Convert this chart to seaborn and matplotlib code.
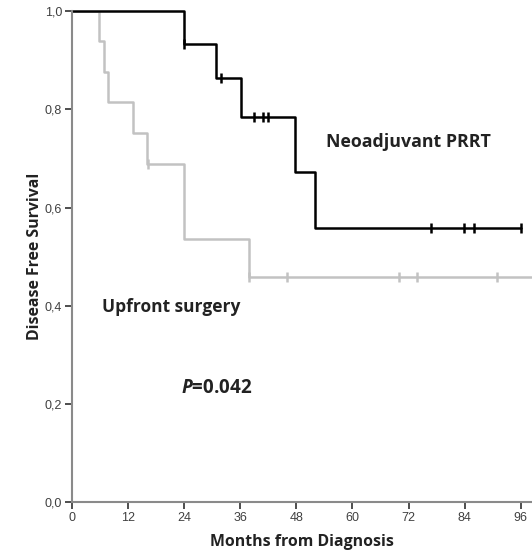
import matplotlib
matplotlib.use("Agg")
import matplotlib.pyplot as plt
import seaborn as sns
import pandas as pd
import numpy as np

# Kaplan-Meier steps
neo_times = [0, 24, 30.8, 36.1, 47.8, 52.0, 96.0]
neo_surv = [1.0, 0.933, 0.863, 0.784, 0.672, 0.559, 0.559]
neo_cens_t = [24.0, 31.9, 38.9, 40.9, 41.9, 76.9, 83.9, 85.9, 96.0]
neo_cens_s = [0.933, 0.863, 0.784, 0.784, 0.784, 0.559, 0.559, 0.559, 0.559]

up_times = [0, 5.9, 6.9, 7.7, 13.2, 16.1, 24.0, 38.0, 100.0]
up_surv = [1.0, 0.940, 0.877, 0.815, 0.751, 0.689, 0.536, 0.458, 0.458]
up_cens_t = [16.4, 38.0, 46.0, 69.9, 73.9, 90.9]
up_cens_s = [0.689, 0.458, 0.458, 0.458, 0.458, 0.458]

xticks = [0, 12, 24, 36, 48, 60, 72, 84, 96]
yticks = [0.0, 0.2, 0.4, 0.6, 0.8, 1.0]
ylabels = ["0,0", "0,2", "0,4", "0,6", "0,8", "1,0"]

sns.set_style("ticks")
plt.rcParams['font.family'] = ['Liberation Sans', 'DejaVu Sans']
plt.rcParams['mathtext.fontset'] = 'custom'
plt.rcParams['mathtext.bfit'] = 'Open Sans:bold:italic'

fig = plt.figure(figsize=(5.32, 5.54), dpi=100)
ax = fig.add_axes([0.1348, 0.093, 0.8652, 0.887])

neo = pd.DataFrame({'t': neo_times, 's': neo_surv})
up = pd.DataFrame({'t': up_times, 's': up_surv})

sns.lineplot(data=up, x='t', y='s', ax=ax, color='#c2c2c2', linewidth=1.8,
             drawstyle='steps-post', estimator=None, sort=False, clip_on=True)
sns.lineplot(data=neo, x='t', y='s', ax=ax, color='black', linewidth=1.8,
             drawstyle='steps-post', estimator=None, sort=False, clip_on=False)

sns.scatterplot(x=up_cens_t, y=up_cens_s, ax=ax, marker='|', s=45,
                color='#c2c2c2', linewidth=1.8, zorder=3)
sns.scatterplot(x=neo_cens_t, y=neo_cens_s, ax=ax, marker='|', s=45,
                color='black', linewidth=1.8, zorder=4, clip_on=False)

ax.set_xlim(0, 98.4)
ax.set_ylim(0, 1.0)
ax.set_xticks(xticks)
ax.set_yticks(yticks)
ax.set_yticklabels(ylabels)
ax.tick_params(axis='both', labelsize=9, colors='#404040', length=5, width=1.3, pad=2)
for side in ['top', 'right']:
    ax.spines[side].set_visible(False)
for side in ['left', 'bottom']:
    ax.spines[side].set_color('#8a8a8a')
    ax.spines[side].set_linewidth(1.5)

ax.set_xlabel("Months from Diagnosis", fontsize=11.4, fontweight='bold',
              family='Open Sans', color='#222222', labelpad=7)
ax.set_ylabel("Disease Free Survival", fontsize=11.4, fontweight='bold',
              family='Open Sans', color='#222222', labelpad=1)

ax.text(54.4, 0.733, "Neoadjuvant PRRT", fontsize=12.8, fontweight='bold',
        family='Open Sans', color='#222222', va='center')
ax.text(6.5, 0.397, "Upfront surgery", fontsize=12.5, fontweight='bold',
        family='Open Sans', color='#222222', va='center')
ax.text(23.3, 0.233, r"$\mathbfit{P}$=0.042", fontsize=13.5, fontweight='bold',
        family='Open Sans', color='#222222', va='center')

fig.savefig("out.png", dpi=100)
